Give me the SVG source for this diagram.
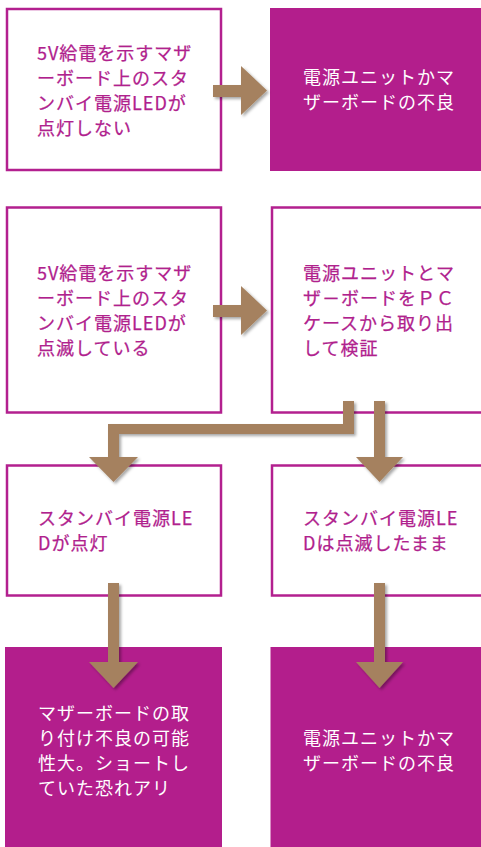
<svg xmlns="http://www.w3.org/2000/svg" width="481" height="847" viewBox="0 0 481 847">
<style>
.box{fill:#ffffff;stroke:#b3208f;stroke-width:2.5}
.fill{fill:#b31e8c}
.t{font-family:"Noto Sans CJK JP","Noto Sans",sans-serif;font-size:18px;letter-spacing:1px}
.tm{fill:#b0218d;stroke:#b0218d;stroke-width:0.25}
.tw{fill:#ffffff}
.arr{fill:#a5815f;filter:url(#sh)}
</style>
<defs>
<filter id="sh" x="-20%" y="-20%" width="140%" height="140%">
<feDropShadow dx="2" dy="2" stdDeviation="1.8" flood-color="#000" flood-opacity="0.35"/>
</filter>
</defs>
<rect width="481" height="847" fill="#ffffff"/>
<g id="n1">
<rect class="box" x="7" y="9" width="214" height="161"/>
<text class="t tm"><tspan x="37" y="60">5V給電を示すマザ</tspan><tspan x="37" y="85">ーボード上のスタ</tspan><tspan x="37" y="110">ンバイ電源LEDが</tspan><tspan x="37" y="135">点灯しない</tspan></text>
</g>
<g id="n2">
<rect class="fill" x="270" y="8" width="214" height="163"/>
<text class="t tw"><tspan x="303" y="83.5">電源ユニットかマ</tspan><tspan x="303" y="108.5">ザーボードの不良</tspan></text>
</g>
<g id="n3">
<rect class="box" x="7" y="207.5" width="214" height="205"/>
<text class="t tm"><tspan x="37" y="280">5V給電を示すマザ</tspan><tspan x="37" y="305">ーボード上のスタ</tspan><tspan x="37" y="330">ンバイ電源LEDが</tspan><tspan x="37" y="355">点滅している</tspan></text>
</g>
<g id="n4">
<rect class="box" x="272" y="207.5" width="212" height="205"/>
<text class="t tm"><tspan x="303" y="280">電源ユニットとマ</tspan><tspan x="303" y="305">ザ－ボードをＰＣ</tspan><tspan x="303" y="330">ケースから取り出</tspan><tspan x="303" y="355">して検証</tspan></text>
</g>
<g id="n5">
<rect class="box" x="7" y="465.5" width="214" height="130"/>
<text class="t tm"><tspan x="38" y="524.5">スタンバイ電源LE</tspan><tspan x="38" y="549.5">Dが点灯</tspan></text>
</g>
<g id="n6">
<rect class="box" x="272" y="465.5" width="212" height="130"/>
<text class="t tm"><tspan x="303" y="524.5">スタンバイ電源LE</tspan><tspan x="303" y="549.5">Dは点滅したまま</tspan></text>
</g>
<g id="n7">
<rect class="fill" x="5" y="647" width="217" height="200"/>
<text class="t tw"><tspan x="38" y="720">マザーボードの取</tspan><tspan x="38" y="745">り付け不良の可能</tspan><tspan x="38" y="770">性大。ショートし</tspan><tspan x="38" y="795">ていた恐れアリ</tspan></text>
</g>
<g id="n8">
<rect class="fill" x="270.5" y="647" width="214" height="200"/>
<text class="t tw"><tspan x="303" y="745">電源ユニットかマ</tspan><tspan x="303" y="770">ザーボードの不良</tspan></text>
</g>
<g id="connectors">
<polygon class="arr" points="213,85 241,85 241,66 267,90.5 241,115 241,97 213,97"/>
<polygon class="arr" points="213,305 241,305 241,286 267,310.5 241,335 241,317 213,317"/>
<polygon class="arr" points="343,401 354,401 354,434 119,434 119,457 138,457 113.5,482 89,457 108,457 108,424 343,424"/>
<polygon class="arr" points="374,401 385,401 385,457 403,457 379.5,482 356,457 374,457"/>
<polygon class="arr" points="108,583 119,583 119,662 138,662 113.5,688 89,662 108,662"/>
<polygon class="arr" points="374,583 385,583 385,662 403,662 379.5,688 356,662 374,662"/>
</g>
</svg>
